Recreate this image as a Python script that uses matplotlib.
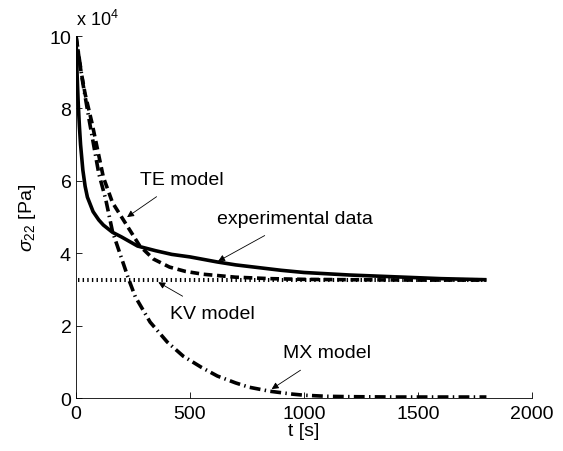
import numpy as np
import matplotlib
matplotlib.use('Agg')
import matplotlib.pyplot as plt

plt.rcParams['font.family'] = ['Liberation Sans', 'DejaVu Sans']
plt.rcParams['mathtext.fontset'] = 'custom'
plt.rcParams['mathtext.rm'] = 'Liberation Sans'
plt.rcParams['mathtext.it'] = 'Liberation Sans:italic'

# stress values, in units of 1e4 Pa
t_exp = [0, 5, 10, 15, 20, 30, 40, 50, 75, 100, 120, 160, 200, 270, 350, 420,
         500, 620, 700, 820, 900, 1000, 1200, 1400, 1600, 1800]
s_exp = [10, 8.9, 8.1, 7.5, 7.0, 6.3, 5.85, 5.55, 5.15, 4.92, 4.78, 4.58, 4.45,
         4.2, 4.07, 3.97, 3.9, 3.76, 3.68, 3.59, 3.53, 3.47, 3.40, 3.35, 3.30, 3.27]

t_te = [0, 20, 40, 70, 100, 120, 160, 210, 280, 340, 410, 480, 560, 700, 850,
        1000, 1200, 1500, 1800]
s_te = [10, 9.1, 8.4, 7.6, 6.7, 6.1, 5.4, 4.9, 4.2, 3.84, 3.62, 3.5, 3.42,
        3.34, 3.3, 3.28, 3.27, 3.26, 3.26]

t_kv = [10, 1800]
s_kv = [3.27, 3.27]

t_mx = [0, 30, 60, 100, 130, 160, 230, 260, 325, 400, 470, 550, 620, 700, 760,
        850, 950, 1000, 1100, 1200, 1400, 1800]
s_mx = [10, 8.7, 7.6, 6.2, 5.5, 4.6, 3.3, 2.8, 2.1, 1.55, 1.16, 0.85, 0.61,
        0.42, 0.30, 0.19, 0.11, 0.08, 0.05, 0.04, 0.03, 0.03]

scale = 1e4


def annotate(ax, label, xy, xytext):
    ax.annotate(label, xy=xy, xytext=xytext, fontsize=14, ha='center', va='center',
                arrowprops=dict(arrowstyle='-|>', color='k', lw=0.6,
                                mutation_scale=10, shrinkA=8, shrinkB=0))


fig = plt.figure(figsize=(5.63, 4.52), dpi=100)
ax = fig.add_axes([0.135, 0.117, 0.81, 0.801])

ax.plot(t_exp, np.array(s_exp) * scale, color='k', lw=2.6, solid_capstyle='butt')
ax.plot(t_te, np.array(s_te) * scale, color='k', lw=2.6, linestyle=(0, (2.4, 1.3)))
ax.plot(t_kv, np.array(s_kv) * scale, color='k', lw=2.9, linestyle=(0, (0.35, 0.8)))
ax.plot(t_mx, np.array(s_mx) * scale, color='k', lw=2.6,
        linestyle=(0, (3.0, 1.2, 0.4, 1.2)))

annotate(ax, 'TE model', (224, 5.0e4), (465, 6.05e4))
annotate(ax, 'experimental data', (623, 3.78e4), (960, 4.95e4))
annotate(ax, 'KV model', (361, 3.2e4), (596, 2.35e4))
annotate(ax, 'MX model', (858, 0.25e4), (1101, 1.25e4))

ax.set_xlim(0, 2000)
ax.set_ylim(0, 10e4)
ax.set_xticks([0, 500, 1000, 1500, 2000])
ax.set_yticks([0, 2e4, 4e4, 6e4, 8e4, 10e4])
ax.ticklabel_format(axis='y', style='sci', scilimits=(4, 4), useMathText=True)
ax.yaxis.get_offset_text().set_visible(False)
ax.text(0.0, 1.02, r'x 10$^{4}$', transform=ax.transAxes, fontsize=13,
        ha='left', va='bottom')
ax.spines['top'].set_visible(False)
ax.spines['right'].set_visible(False)
ax.tick_params(direction='in', labelsize=14, length=4, width=0.6)
ax.tick_params(axis='x', pad=5)
ax.tick_params(axis='y', pad=3)
for s in ['left', 'bottom']:
    ax.spines[s].set_linewidth(0.6)

ax.set_xlabel('t [s]', fontsize=14, labelpad=0)
ax.set_ylabel(r'$\sigma_{22}$ [Pa]', fontsize=14, labelpad=8)

fig.savefig('out.png', dpi=100)
